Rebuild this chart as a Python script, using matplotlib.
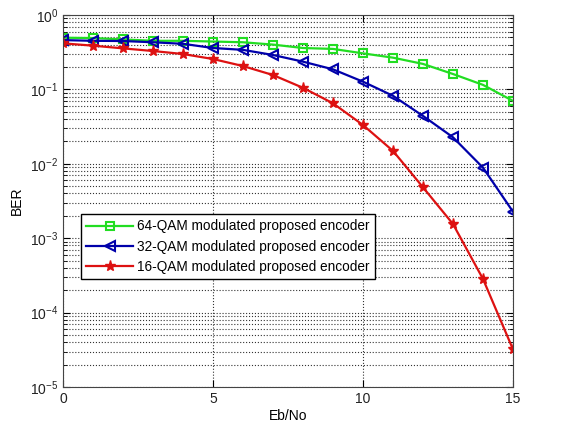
import matplotlib
matplotlib.use("Agg")
import matplotlib.pyplot as plt
import numpy as np
from matplotlib.ticker import LogLocator, NullFormatter

plt.rcParams['font.family'] = ['Liberation Sans', 'DejaVu Sans']
plt.rcParams['mathtext.fontset'] = 'custom'
plt.rcParams['mathtext.rm'] = 'Liberation Sans'
plt.rcParams['mathtext.default'] = 'regular'

ebno = [0, 1, 2, 3, 4, 5, 6, 7, 8, 9, 10, 11, 12, 13, 14, 15]
ber_64qam = [0.495, 0.49, 0.47, 0.45, 0.45, 0.44, 0.43, 0.40, 0.36, 0.35,
             0.305, 0.267, 0.22, 0.161, 0.115, 0.070]
ber_32qam = [0.46, 0.45, 0.447, 0.43, 0.41, 0.36, 0.34, 0.29, 0.236, 0.186,
             0.127, 0.082, 0.044, 0.0227, 0.00887, 0.00227]
ber_16qam = [0.416, 0.387, 0.356, 0.328, 0.299, 0.256, 0.206, 0.156, 0.105, 0.065,
             0.0332, 0.0149, 0.00483, 0.00155, 2.83e-4, 3.2e-5]
labels = ['64-QAM modulated proposed encoder',
          '32-QAM modulated proposed encoder',
          '16-QAM modulated proposed encoder']

fig = plt.figure(figsize=(5.66, 4.25), dpi=100)
ax = fig.add_axes([63/566, 38/425, 450/566, 372/425])

ax.semilogy(ebno, ber_64qam, color='#22DD22', lw=1.6, marker='s', ms=6,
            mfc='none', mec='#22DD22', mew=1.5, label=labels[0])
ax.semilogy(ebno, ber_32qam, color='#0000AA', lw=1.6, marker='<', ms=7,
            mfc='none', mec='#0000AA', mew=1.5, label=labels[1])
ax.semilogy(ebno, ber_16qam, color='#DD1111', lw=1.6, marker='*', ms=8,
            mfc='#DD1111', mec='#DD1111', mew=1.0, label=labels[2])

ax.set_xlim(0, 15)
ax.set_ylim(1e-5, 1)
ax.set_xticks([0, 5, 10, 15])
ax.yaxis.set_major_locator(LogLocator(base=10, numticks=10))
ax.yaxis.set_minor_locator(LogLocator(base=10, subs=np.arange(2, 10), numticks=20))
ax.yaxis.set_minor_formatter(NullFormatter())

ax.grid(True, which='major', axis='both', linestyle=':', color='#333333', lw=0.8)
ax.grid(True, which='minor', axis='y', linestyle=':', color='#333333', lw=0.8)
ax.tick_params(which='both', direction='in', top=True, right=True, labelsize=10,
               labelcolor='#222222')
ax.tick_params(which='major', length=5)
ax.tick_params(which='minor', length=3)
for s in ax.spines.values():
    s.set_color('#444444')
    s.set_linewidth(0.8)

ax.set_xlabel('Eb/No', fontsize=10, labelpad=2)
ax.set_ylabel('BER', fontsize=10, labelpad=4)

leg = ax.legend(loc='upper left', bbox_to_anchor=(0.04, 0.465), borderaxespad=0,
                fontsize=9.8, handlelength=3.4, handletextpad=0.3, labelspacing=0.45,
                borderpad=0.4, fancybox=False, framealpha=1, edgecolor='black')
leg.get_frame().set_linewidth(1.0)

fig.savefig('out.png', dpi=100)
